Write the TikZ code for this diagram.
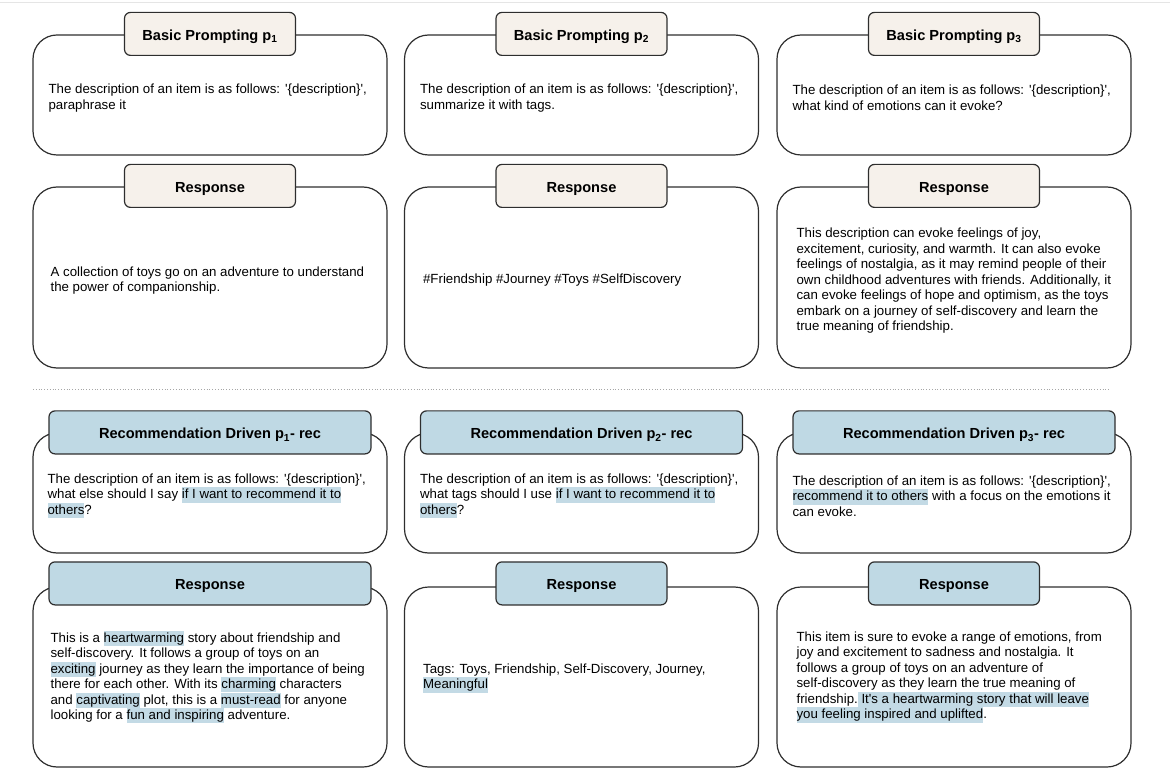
\documentclass[tikz,border=0pt]{standalone}
\usepackage{fontspec}
\setmainfont{Liberation Sans}
\usepackage{xcolor}
\definecolor{boxline}{HTML}{2E2E2E}
\definecolor{cream}{HTML}{F6F1EB}
\definecolor{tabblue}{HTML}{BFD9E4}
\definecolor{hlblue}{HTML}{C3DAE5}
\newcommand\sq{\textquotesingle}
\newcommand\linestrut{\rule[-3.9pt]{0pt}{15.4pt}}
\newcommand\hlt[1]{{\setlength{\fboxsep}{0pt}\colorbox{hlblue}{\linestrut#1}}}
\newcommand\desc{The description of an item is as follows: \sq\{description\}\sq,}
\tikzset{
  bigbox/.style={draw=boxline, line width=1.2pt, rounded corners=24pt, minimum width=354pt, inner sep=0pt},
  tabbase/.style={draw=boxline, line width=1.2pt, rounded corners=6pt, minimum height=43pt, inner sep=0pt,
    text height=13pt, text depth=0pt,
    font=\fontsize{14.6pt}{17pt}\selectfont\bfseries},
  tabcream/.style={tabbase, fill=cream, minimum width=171pt},
  tabbluewide/.style={tabbase, fill=tabblue, minimum width=322pt},
  tabbluenarrow/.style={tabbase, fill=tabblue, minimum width=171pt},
  txt/.style={anchor=west, align=left, inner sep=0pt, text=black,
    font=\fontsize{13.27pt}{15.5pt}\selectfont},
  sepline/.style={draw=gray!70, line width=0.8pt, dotted},
  frameline/.style={draw=gray!20, line width=1pt}
}
\begin{document}
\begin{tikzpicture}[x=1pt, y=-1pt]
\useasboundingbox (0,0) rectangle (1170,783);
\coordinate (fl) at (0,3);
\coordinate (fr) at (1170,3);
\draw[frameline] (fl) -- (fr);

% ---------- Row A: basic prompts ----------
\node[bigbox, minimum height=120pt] (a1) at (210,95) {};
\node[bigbox, minimum height=120pt] (a2) at (581.5,95) {};
\node[bigbox, minimum height=120pt] (a3) at (954,95) {};
\node[tabcream] (ha1) at ([yshift=0.5pt]a1.north) {Basic Prompting p\textsubscript{1}};
\node[tabcream] (ha2) at ([yshift=0.5pt]a2.north) {Basic Prompting p\textsubscript{2}};
\node[tabcream] (ha3) at ([yshift=0.5pt]a3.north) {Basic Prompting p\textsubscript{3}};
\node[txt] (ta1) at ([xshift=16pt,yshift=-3pt]a1.west) {\desc\\paraphrase it};
\node[txt] (ta2) at ([xshift=16pt,yshift=-3pt]a2.west) {\desc\\summarize it with tags.};
\node[txt] (ta3) at ([xshift=16pt,yshift=-3pt]a3.west) {\desc\\what kind of emotions can it evoke?};

% ---------- Row B: responses ----------
\node[bigbox, minimum height=181pt] (b1) at (210,277.5) {};
\node[bigbox, minimum height=181pt] (b2) at (581.5,277.5) {};
\node[bigbox, minimum height=181pt] (b3) at (954,277.5) {};
\node[tabcream] (hb1) at ([yshift=0.5pt]b1.north) {Response};
\node[tabcream] (hb2) at ([yshift=0.5pt]b2.north) {Response};
\node[tabcream] (hb3) at ([yshift=0.5pt]b3.north) {Response};
\node[txt] (tb1) at ([xshift=18pt,yshift=-3pt]b1.west) {A collection of toys go on an adventure to understand\\the power of companionship.};
\node[txt] (tb2) at ([xshift=19pt,yshift=-3pt]b2.west) {\#Friendship \#Journey \#Toys \#SelfDiscovery};
\node[txt] (tb3) at ([xshift=20pt,yshift=-3.5pt]b3.west) {This description can evoke feelings of joy,\\
excitement, curiosity, and warmth. It can also evoke\\
feelings of nostalgia, as it may remind people of their\\
own childhood adventures with friends. Additionally, it\\
can evoke feelings of hope and optimism, as the toys\\
embark on a journey of self-discovery and learn the\\
true meaning of friendship.};

% ---------- separator ----------
\coordinate (sl) at (33,389);
\coordinate (sr) at (1110,389);
\draw[sepline] (sl) -- (sr);

% ---------- Row C: recommendation driven prompts ----------
\node[bigbox, minimum height=120pt] (c1) at (210,493) {};
\node[bigbox, minimum height=120pt] (c2) at (581.5,493) {};
\node[bigbox, minimum height=120pt] (c3) at (954,493) {};
\node[tabbluewide] (hc1) at (c1.north) {Recommendation Driven p\textsubscript{1}- rec};
\node[tabbluewide] (hc2) at (c2.north) {Recommendation Driven p\textsubscript{2}- rec};
\node[tabbluewide] (hc3) at (c3.north) {Recommendation Driven p\textsubscript{3}- rec};
\node[txt] (tc1) at ([xshift=15pt,yshift=-3pt]c1.west) {\desc\\what else should I say \hlt{if I want to recommend it to}\\\hlt{others}?};
\node[txt] (tc2) at ([xshift=16pt,yshift=-3pt]c2.west) {\desc\\what tags should I use \hlt{if I want to recommend it to}\\\hlt{others}?};
\node[txt] (tc3) at ([xshift=16pt,yshift=-3pt]c3.west) {\desc\\\hlt{recommend it to others} with a focus on the emotions it\\can evoke.};

% ---------- Row D: responses ----------
\node[bigbox, minimum height=180pt] (d1) at (210,677) {};
\node[bigbox, minimum height=180pt] (d2) at (581.5,677) {};
\node[bigbox, minimum height=180pt] (d3) at (954,677) {};
\node[tabbluewide] (hd1) at ([yshift=3pt]d1.north) {Response};
\node[tabbluenarrow] (hd2) at ([yshift=3pt]d2.north) {Response};
\node[tabbluenarrow] (hd3) at ([yshift=3pt]d3.north) {Response};
\node[txt] (td1) at ([xshift=18pt]d1.west) {This is a \hlt{heartwarming} story about friendship and\\
self-discovery. It follows a group of toys on an\\
\hlt{exciting} journey as they learn the importance of being\\
there for each other. With its \hlt{charming} characters\\
and \hlt{captivating} plot, this is a \hlt{must-read} for anyone\\
looking for a \hlt{fun and inspiring} adventure.};
\node[txt] (td2) at ([xshift=19pt,yshift=-1pt]d2.west) {Tags: Toys, Friendship, Self-Discovery, Journey,\\\hlt{Meaningful}};
\node[txt] (td3) at ([xshift=20pt]d3.west) {This item is sure to evoke a range of emotions, from\\
joy and excitement to sadness and nostalgia. It\\
follows a group of toys on an adventure of\\
self-discovery as they learn the true meaning of\\
friendship.\hlt{\ It\sq s a heartwarming story that will leave}\\
\hlt{you feeling inspired and uplifted}.};
\end{tikzpicture}
\end{document}
